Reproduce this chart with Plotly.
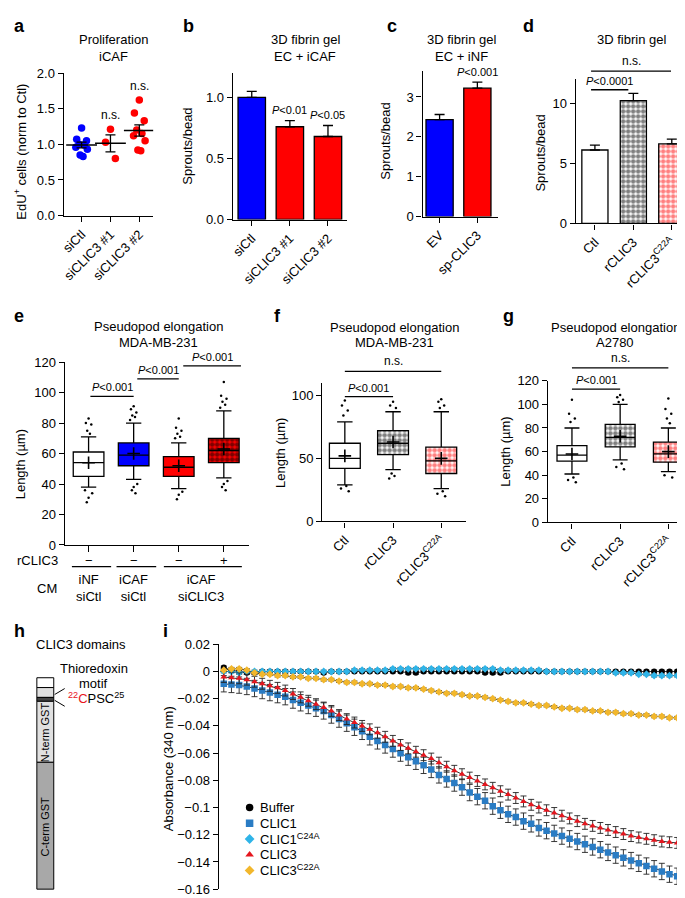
import plotly.graph_objects as go
import numpy as np

W, H = 685, 898
FONT = "Liberation Sans, Arial, Helvetica, sans-serif"
BLUE = "#0000ff"
RED = "#ff0000"
FS = 13

# ---------------- data ----------------
a_labels = ["siCtl", "siCLIC3 #1", "siCLIC3 #2"]
a_sictl = [1.23, 1.07, 1.05, 1.00, 0.99, 0.96, 0.93, 0.85, 0.83]
a_si1 = [1.21, 1.03, 0.80]
a_si2 = [1.62, 1.44, 1.33, 1.20, 1.15, 1.12, 1.05, 0.92, 0.91]

b_labels = ["siCtl", "siCLIC3 #1", "siCLIC3 #2"]
b_mean = [1.00, 0.76, 0.68]
b_sem = [0.05, 0.05, 0.09]
b_p = ["", "<i>P</i>&lt;0.01", "<i>P</i>&lt;0.05"]

c_labels = ["EV", "sp-CLIC3"]
c_mean = [2.43, 3.22]
c_sem = [0.13, 0.15]

d_labels = ["Ctl", "rCLIC3", "rCLIC3<sup>C22A</sup>"]
d_mean = [6.1, 10.2, 6.6]
d_sem = [0.4, 0.6, 0.4]

e_q1 = [45, 52, 45, 54]
e_med = [54, 59, 51, 62]
e_q3 = [61, 67, 58, 70]
e_lo = [38, 43, 37, 44]
e_hi = [71, 80, 67, 88]
e_mean = [54, 60, 52, 63]
e_out = [[83, 80, 79, 75, 73, 36, 34, 31, 28],
         [91, 89, 87, 85, 84, 82, 40, 38, 36, 34],
         [83, 77, 75, 73, 71, 70, 35, 33, 30],
         [107, 98, 96, 94, 92, 90, 42, 40, 38, 36]]

f_q1 = [42, 53, 38]
f_med = [50, 62, 48]
f_q3 = [62, 72, 59]
f_lo = [29, 41, 26]
f_hi = [79, 87, 87]
f_mean = [52, 63, 50]
f_out = [[96, 92, 88, 84, 28, 26, 24],
         [95, 92, 90, 38, 36, 34],
         [97, 95, 92, 90, 24, 22, 20]]

g_q1 = [52, 64, 51]
g_med = [57, 72, 58]
g_q3 = [65, 83, 68]
g_lo = [41, 53, 43]
g_hi = [80, 100, 80]
g_mean = [58, 73, 60]
g_out = [[104, 92, 88, 85, 38, 36, 34],
         [108, 106, 104, 102, 50, 47, 45],
         [105, 96, 92, 88, 84, 40, 38]]

i_time = list(range(61))
i_buffer = [0.003, 0.001, 0.000, -0.001, -0.001, 0.000, 0.000, 0.000, 0.000, 0.000,
            0.000, 0.000, 0.000, -0.001, 0.000, 0.000, 0.000, 0.000, 0.000, 0.000,
            0.000, 0.000, 0.000, 0.000, -0.001, -0.001, 0.000, 0.000, 0.000, 0.000,
            0.000, 0.000, 0.000, 0.000, -0.001, -0.001, -0.001, 0.000, 0.000, 0.000,
            0.000, 0.000, 0.000, 0.000, 0.000, 0.000, 0.000, 0.000, 0.000, 0.000,
            0.000, 0.000, 0.000, 0.000, 0.000, 0.000, 0.000, 0.000, 0.000, 0.000, 0.000]
i_clic1 = [-0.009, -0.0095, -0.010, -0.011, -0.0125, -0.014, -0.0155, -0.017, -0.0185, -0.021,
           -0.023, -0.025, -0.027, -0.029, -0.032, -0.035, -0.038, -0.041, -0.044, -0.048,
           -0.051, -0.054, -0.057, -0.060, -0.063, -0.066, -0.069, -0.072, -0.076, -0.079,
           -0.082, -0.085, -0.089, -0.092, -0.095, -0.099, -0.102, -0.105, -0.107, -0.110,
           -0.112, -0.115, -0.117, -0.119, -0.121, -0.123, -0.125, -0.127, -0.129, -0.131,
           -0.133, -0.135, -0.137, -0.139, -0.141, -0.143, -0.145, -0.147, -0.149, -0.1505, -0.152]
i_clic1m = [0.000, 0.000, -0.001, 0.000, 0.000, 0.000, 0.000, 0.000, 0.000, 0.000,
            0.000, 0.000, 0.000, 0.000, 0.000, 0.000, 0.000, 0.001, 0.001, 0.001,
            0.001, 0.001, 0.002, 0.002, 0.002, 0.002, 0.002, 0.002, 0.002, 0.002,
            0.002, 0.002, 0.002, 0.002, 0.002, 0.002, 0.001, 0.001, 0.001, 0.001,
            0.001, 0.001, 0.000, 0.000, 0.000, 0.000, 0.000, 0.000, 0.000, 0.000,
            0.000, -0.001, -0.001, -0.001, -0.002, -0.002, -0.003, -0.003, -0.003, -0.003, -0.003]
i_clic3 = [-0.004, -0.0045, -0.005, -0.006, -0.0075, -0.009, -0.0105, -0.012, -0.014, -0.0165,
           -0.019, -0.0215, -0.024, -0.0265, -0.029, -0.032, -0.035, -0.0375, -0.040, -0.0425,
           -0.045, -0.048, -0.051, -0.054, -0.0565, -0.059, -0.0615, -0.064, -0.067, -0.070,
           -0.073, -0.0755, -0.078, -0.0805, -0.083, -0.0855, -0.088, -0.0905, -0.093, -0.0955,
           -0.098, -0.100, -0.102, -0.104, -0.106, -0.108, -0.110, -0.112, -0.1135, -0.115,
           -0.1165, -0.118, -0.1195, -0.121, -0.122, -0.123, -0.124, -0.125, -0.1255, -0.126, -0.127]
i_clic3m = [0.001, 0.002, 0.002, 0.001, -0.001, -0.002, -0.002, -0.003, -0.003, -0.004,
            -0.004, -0.005, -0.005, -0.006, -0.006, -0.007, -0.008, -0.008, -0.009, -0.009,
            -0.010, -0.010, -0.011, -0.011, -0.012, -0.012, -0.013, -0.014, -0.015, -0.016,
            -0.016, -0.017, -0.018, -0.018, -0.019, -0.020, -0.021, -0.022, -0.023, -0.023,
            -0.024, -0.025, -0.025, -0.026, -0.027, -0.027, -0.028, -0.028, -0.029, -0.029,
            -0.030, -0.030, -0.031, -0.031, -0.032, -0.032, -0.033, -0.033, -0.034, -0.034, -0.035]
i_err = {"Buffer": 0.001, "CLIC1": 0.006, "CLIC1m": 0.001, "CLIC3": 0.004, "CLIC3m": 0.001}

# ---------------- helpers ----------------
fig = go.Figure()
layout = dict(width=W, height=H, margin=dict(l=0, r=0, t=0, b=0),
              paper_bgcolor="white", plot_bgcolor="white",
              font=dict(family=FONT, size=FS, color="black"),
              barmode="overlay", boxmode="overlay", showlegend=False)
annotations = []
shapes = []
G = {}


def ref(n, a):
    return a if n == 1 else f"{a}{n}"


def axstyle(**kw):
    d = dict(showline=True, linecolor="black", linewidth=1.3, ticks="outside", ticklen=5,
             tickwidth=1.3, tickcolor="black", showgrid=False, zeroline=False,
             tickfont=dict(size=FS, family=FONT, color="black"), fixedrange=True)
    d.update(kw)
    return d


def add_axes(n, x0, x1, ytop, ybot, xr, yr, xkw=None, ykw=None):
    G[n] = (x0, x1, ytop, ybot, xr, yr)
    layout[ref(n, "xaxis")] = axstyle(domain=[x0 / W, x1 / W], range=xr, anchor=ref(n, "y"), **(xkw or {}))
    layout[ref(n, "yaxis")] = axstyle(domain=[1 - ybot / H, 1 - ytop / H], range=yr, anchor=ref(n, "x"), **(ykw or {}))


def to_px(n, x, y):
    x0, x1, yt, yb, xr, yr = G[n]
    X = x0 + (x - xr[0]) / (xr[1] - xr[0]) * (x1 - x0)
    Y = yb - (y - yr[0]) / (yr[1] - yr[0]) * (yb - yt)
    return X, Y


def ann(x, y, text, size=FS, xa="center", ya="middle", angle=0, color="black", bold=False):
    if bold:
        text = f"<b>{text}</b>"
    annotations.append(dict(x=x / W, y=1 - y / H, xref="paper", yref="paper", text=text, showarrow=False,
                            xanchor=xa, yanchor=ya, textangle=angle,
                            font=dict(size=size, family=FONT, color=color)))


def hline(x0, x1, y, width=1.3, color="black"):
    shapes.append(dict(type="line", xref="paper", yref="paper", x0=x0 / W, x1=x1 / W,
                       y0=1 - y / H, y1=1 - y / H, line=dict(color=color, width=width)))


def bracket(n, xa, xb, yv, text, size=11):
    X0, Y = to_px(n, xa, yv)
    X1, _ = to_px(n, xb, yv)
    hline(X0, X1, Y)
    ann((X0 + X1) / 2, Y - 1, text, size=size, ya="bottom")


def checker(n, xs, base, heights, width, bg, fg, size=5):
    fig.add_trace(go.Bar(x=xs, y=heights, base=base, width=width,
                         marker=dict(color=bg, line=dict(width=0),
                                     pattern=dict(shape=".", fgcolor=fg, bgcolor=bg, size=size, solidity=0.65)),
                         showlegend=False, xaxis=ref(n, "x"), yaxis=ref(n, "y")))


P = "<i>P</i>&lt;0.001"

# ---------------- panel a ----------------
add_axes(1, 52, 142, 59, 204, [-0.62, 2.48], [0, 2.0],
         xkw=dict(tickvals=[0, 1, 2], ticktext=a_labels, tickangle=-45),
         ykw=dict(tickvals=[0, 0.5, 1.0, 1.5, 2.0], tickformat=".1f"))
jit = [0.0, -0.17, 0.17, -0.09, 0.09, -0.2, 0.2, -0.05, 0.05, 0.13]
for i, (vals, col) in enumerate([(a_sictl, BLUE), (a_si1, RED), (a_si2, RED)]):
    fig.add_trace(go.Scatter(x=[i + jit[k] for k in range(len(vals))], y=vals, mode="markers",
                             marker=dict(color=col, size=7.5), showlegend=False, xaxis="x", yaxis="y"))
    m = float(np.mean(vals))
    s = float(np.std(vals, ddof=1) / np.sqrt(len(vals)))
    fig.add_trace(go.Scatter(x=[i], y=[m], mode="markers",
                             marker=dict(symbol="line-ew", size=22, line=dict(color="black", width=1.5)),
                             error_y=dict(type="data", array=[s], width=5, thickness=1.3, color="black"),
                             showlegend=False, xaxis="x", yaxis="y"))
    if i > 0:
        annotations.append(dict(x=i, y=max(vals) + 0.07, xref="x", yref="y",
                                text="n.s.", showarrow=False, yanchor="bottom",
                                font=dict(size=12, family=FONT)))

# ---------------- panel b ----------------
add_axes(2, 222, 337, 59, 208, [-0.5, 2.5], [0, 1.2],
         xkw=dict(tickvals=[0, 1, 2], ticktext=b_labels, tickangle=-45),
         ykw=dict(tickvals=[0, 0.5, 1.0], tickformat=".1f"))
fig.add_trace(go.Bar(x=[0, 1, 2], y=b_mean, width=0.72, marker=dict(color=[BLUE, RED, RED], line=dict(color="black", width=1.3)),
                     error_y=dict(type="data", symmetric=False, array=b_sem, arrayminus=[0, 0, 0], width=5, thickness=1.3, color="black"),
                     showlegend=False, xaxis="x2", yaxis="y2"))
for i in range(3):
    if b_p[i]:
        annotations.append(dict(x=i, y=b_mean[i] + b_sem[i] + 0.02, xref="x2", yref="y2", text=b_p[i],
                                showarrow=False, yanchor="bottom", font=dict(size=11, family=FONT)))

# ---------------- panel c ----------------
add_axes(3, 413, 489, 57, 205, [-0.45, 1.55], [0, 3.65],
         xkw=dict(tickvals=[0, 1], ticktext=c_labels, tickangle=-45),
         ykw=dict(tickvals=[0, 1, 2, 3]))
fig.add_trace(go.Bar(x=[0, 1], y=c_mean, width=0.72, marker=dict(color=[BLUE, RED], line=dict(color="black", width=1.3)),
                     error_y=dict(type="data", symmetric=False, array=c_sem, arrayminus=[0, 0], width=5, thickness=1.3, color="black"),
                     showlegend=False, xaxis="x3", yaxis="y3"))
annotations.append(dict(x=1, y=c_mean[1] + c_sem[1] + 0.05, xref="x3", yref="y3", text=P,
                        showarrow=False, yanchor="bottom", font=dict(size=11, family=FONT)))

# ---------------- panel d ----------------
add_axes(4, 567, 683, 65, 212, [-0.5, 2.5], [0, 12],
         xkw=dict(tickvals=[0, 1, 2], ticktext=d_labels, tickangle=-45),
         ykw=dict(tickvals=[0, 5, 10]))
fig.add_trace(go.Bar(x=[0], y=[d_mean[0]], width=0.68, marker=dict(color="white", line=dict(width=0)),
                     showlegend=False, xaxis="x4", yaxis="y4"))
checker(4, [1], [0], [d_mean[1]], 0.68, "white", "black")
checker(4, [2], [0], [d_mean[2]], 0.68, "white", RED)
fig.add_trace(go.Bar(x=[0, 1, 2], y=d_mean, width=0.68, marker=dict(color="rgba(0,0,0,0)", line=dict(color="black", width=1.3)),
                     error_y=dict(type="data", symmetric=False, array=d_sem, arrayminus=[0, 0, 0], width=5, thickness=1.3, color="black"),
                     showlegend=False, xaxis="x4", yaxis="y4"))
bracket(4, -0.1, 0.87, 11.1, "<i>P</i>&lt;0.0001")
bracket(4, -0.1, 1.98, 12.65, "n.s.", size=12)


# ---------------- box helper ----------------
def boxes(n, q1, med, q3, lo, hi, mean, outs, styles, bw):
    for i in range(len(q1)):
        kind, bg, fg = styles[i]
        if kind == "checker":
            checker(n, [i], [q1[i]], [q3[i] - q1[i]], bw, bg, fg)
            fill = "rgba(0,0,0,0)"
        else:
            fill = bg
        fig.add_trace(go.Box(x=[i], q1=[q1[i]], median=[med[i]], q3=[q3[i]], lowerfence=[lo[i]], upperfence=[hi[i]],
                             width=bw, fillcolor=fill, line=dict(color="black", width=1.3), whiskerwidth=0.5,
                             boxpoints=False, showlegend=False, xaxis=ref(n, "x"), yaxis=ref(n, "y")))
        fig.add_trace(go.Scatter(x=[i], y=[mean[i]], mode="markers",
                                 marker=dict(symbol="cross-thin", size=9, line=dict(color="black", width=1.6)),
                                 showlegend=False, xaxis=ref(n, "x"), yaxis=ref(n, "y")))
        offs = [0.0, -0.06, 0.06, -0.03, 0.03, -0.08, 0.08, 0.0, -0.04, 0.04]
        fig.add_trace(go.Scatter(x=[i + offs[k % len(offs)] for k in range(len(outs[i]))], y=outs[i], mode="markers",
                                 marker=dict(color="black", size=2.5), showlegend=False,
                                 xaxis=ref(n, "x"), yaxis=ref(n, "y")))


# ---------------- panel e ----------------
add_axes(5, 53, 238, 353, 539, [-0.53, 3.55], [0, 120],
         xkw=dict(tickvals=[0, 1, 2, 3], showticklabels=False, ticklen=6),
         ykw=dict(tickvals=[0, 20, 40, 60, 80, 100, 120]))
boxes(5, e_q1, e_med, e_q3, e_lo, e_hi, e_mean, e_out,
      [("plain", "white", None), ("plain", BLUE, None), ("plain", RED, None), ("checker", RED, "black")], 0.68)
bracket(5, 0.04, 1.0, 97.5, P)
bracket(5, 1.08, 2.0, 109, P)
bracket(5, 2.1, 3.38, 117.5, P)
ann(48, 555, "rCLIC3", xa="right")
ann(35, 583, "CM")
for i, s in enumerate(["−", "−", "−", "+"]):
    X, _ = to_px(5, i, 0)
    ann(X, 555, s)
for (xa, xb) in [(-0.37, 0.5), (0.62, 1.5), (1.67, 3.4)]:
    X0, _ = to_px(5, xa, 0)
    X1, _ = to_px(5, xb, 0)
    hline(X0, X1, 561)
for xv, t in [(0, "iNF<br>siCtl"), (1, "iCAF<br>siCtl"), (2.5, "iCAF<br>siCLIC3")]:
    X, _ = to_px(5, xv, 0)
    ann(X, 583, t)

# ---------------- panel f ----------------
add_axes(6, 312, 457, 374, 515, [-0.47, 2.52], [0, 110],
         xkw=dict(tickvals=[0, 1, 2], ticktext=d_labels, tickangle=-45),
         ykw=dict(tickvals=[0, 50, 100]))
boxes(6, f_q1, f_med, f_q3, f_lo, f_hi, f_mean, f_out,
      [("plain", "white", None), ("checker", "white", "black"), ("checker", "white", RED)], 0.64)
bracket(6, 0, 1, 99, P)
bracket(6, 0, 2, 119, "n.s.", size=12)

# ---------------- panel g ----------------
add_axes(7, 539, 683, 372, 516, [-0.5, 2.47], [0, 120],
         xkw=dict(tickvals=[0, 1, 2], ticktext=d_labels, tickangle=-45),
         ykw=dict(tickvals=[0, 20, 40, 60, 80, 100, 120]))
boxes(7, g_q1, g_med, g_q3, g_lo, g_hi, g_mean, g_out,
      [("plain", "white", None), ("checker", "white", "black"), ("checker", "white", RED)], 0.62)
bracket(7, 0, 1, 113, P)
bracket(7, 0, 2, 131, "n.s.", size=12)

# ---------------- panel i ----------------
add_axes(8, 208, 683, 640, 889, [-0.65, 60.8], [-0.16, 0.02],
         xkw=dict(showline=False, ticks="", showticklabels=False),
         ykw=dict(tickvals=[0.02, 0, -0.02, -0.04, -0.06, -0.08, -0.1, -0.12, -0.14, -0.16],
                  ticktext=["0.02", "0", "−0.02", "−0.04", "−0.06", "−0.08", "−0.1", "−0.12", "−0.14", "−0.16"]))
series = [("Buffer", i_buffer, "black", "circle", i_err["Buffer"], 6),
          ("CLIC1", i_clic1, "#2a7cc4", "square", i_err["CLIC1"], 6.5),
          ("CLIC1<sup>C24A</sup>", i_clic1m, "#2fb4e8", "diamond", i_err["CLIC1m"], 6),
          ("CLIC3", i_clic3, "#e5161e", "triangle-up", i_err["CLIC3"], 6),
          ("CLIC3<sup>C22A</sup>", i_clic3m, "#f2b72c", "diamond", i_err["CLIC3m"], 6)]
for name, vals, col, sym, err, ms in series:
    fig.add_trace(go.Scatter(x=i_time, y=vals, mode="lines", line=dict(color="black", width=0.8),
                             showlegend=False, xaxis="x8", yaxis="y8"))
for name, vals, col, sym, err, ms in series:
    fig.add_trace(go.Scatter(x=i_time, y=vals, mode="markers", name=name,
                             marker=dict(color=col, size=ms, symbol=sym),
                             error_y=dict(type="constant", value=err, width=3, thickness=0.9, color="#222"),
                             showlegend=False, xaxis="x8", yaxis="y8"))

# manual legend (glyph axis) for panel i
layout["xaxis9"] = dict(domain=[232 / W, 246 / W], range=[0, 1], visible=False, fixedrange=True, anchor="y9")
layout["yaxis9"] = dict(domain=[1 - 880 / H, 1 - 798 / H], range=[82, 0], visible=False, fixedrange=True, anchor="x9")
for k, (name, vals, col, sym, err, ms) in enumerate(series):
    fig.add_trace(go.Scatter(x=[0.5], y=[8 + 16 * k], mode="markers", name=name,
                             marker=dict(color=col, size=7.5, symbol=sym),
                             showlegend=False, xaxis="x9", yaxis="y9"))
    ann(247, 806 + 16 * k, name, xa="left")

# ---------------- panel h (domain diagram) ----------------
for (y0, y1, col) in [(674, 684, "white"), (684, 694, "#e0e0e0"), (694, 698, "#444444"),
                      (698, 760, "#e0e0e0"), (760, 889, "#a8a8a8")]:
    shapes.append(dict(type="rect", xref="paper", yref="paper", x0=25 / W, x1=42 / W,
                       y0=1 - y1 / H, y1=1 - y0 / H, fillcolor=col, line=dict(color="black", width=1)))
for (ya, yb) in [(691, 685), (697, 703)]:
    shapes.append(dict(type="line", xref="paper", yref="paper", x0=43 / W, x1=53 / W,
                       y0=1 - ya / H, y1=1 - yb / H, line=dict(color="black", width=1)))
ann(33.5, 729, "N-term GST", size=11, angle=-90)
ann(33.5, 825, "C-term GST", size=11, angle=-90)
ann(82, 665, "Thioredoxin")
ann(82, 680, "motif")
ann(84, 695, "<span style='color:#e8141c'><sup>22</sup>C</span>PSC<sup>25</sup>")
ann(69, 640, "CLIC3 domains")

# ---------------- titles / labels ----------------
for (x, y, t) in [(0, 11, "a"), (170, 11, "b"), (375, 11, "c"), (512, 11, "d"), (0, 306, "e"),
                  (262, 306, "f"), (492, 306, "g"), (0, 626, "h"), (150, 626, "i")]:
    ann(x, y, t, size=18, xa="left", bold=True)
ann(102, 25, "Proliferation")
ann(102, 42, "iCAF")
ann(295, 25, "3D fibrin gel")
ann(295, 42, "EC + iCAF")
ann(452, 25, "3D fibrin gel")
ann(452, 42, "EC + iNF")
ann(623, 25, "3D fibrin gel")
ann(147, 317, "Pseudopod elongation")
ann(147, 333, "MDA-MB-231")
ann(385, 318, "Pseudopod elongation")
ann(385, 333, "MDA-MB-231")
ann(607, 318, "Pseudopod elongation")
ann(607, 333, "A2780")

ann(8, 139, "EdU<sup>+</sup> cells (norm to Ctl)", angle=-90)
ann(177, 133, "Sprouts/bead", angle=-90)
ann(376, 128, "Sprouts/bead", angle=-90)
ann(532, 140, "Sprouts/bead", angle=-90)
ann(8, 457, "Length (µm)", angle=-90)
ann(270, 445, "Length (µm)", angle=-90)
ann(496, 444, "Length (µm)", angle=-90)
ann(157, 767, "Absorbance (340 nm)", angle=-90)

layout["annotations"] = annotations
layout["shapes"] = shapes
fig.update_layout(**layout)
fig.write_html("out.html")
